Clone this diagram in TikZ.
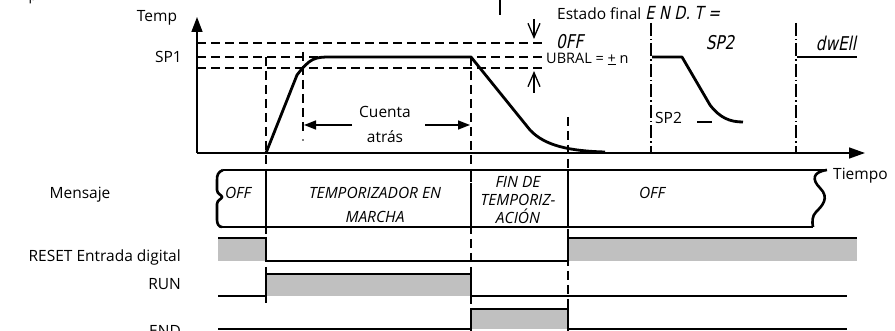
\documentclass[tikz,border=0pt]{standalone}
\usepackage{fontspec}
\setmainfont{Open Sans}
\newfontfamily\segfont[FakeSlant=0.2,FakeStretch=0.8]{DejaVu Sans}
\usetikzlibrary{arrows.meta}
\definecolor{sigfill}{HTML}{C0C0C0}
\begin{document}
\begin{tikzpicture}[x=1pt,y=-1pt,
  axisline/.style={line width=1.5pt},
  guide/.style={line width=1.4pt, dash pattern=on 9pt off 5pt},
  dashdotline/.style={line width=1.2pt, dash pattern=on 13pt off 3pt on 1.5pt off 3pt},
  curveline/.style={line width=2.8pt, line join=round},
  sigline/.style={line width=2.3pt},
  bandline/.style={line width=2.6pt},
  lbl/.style={font=\fontsize{15.5}{17}\selectfont, inner sep=0pt},
  msgtxt/.style={font=\fontsize{15.5}{17}\selectfont\itshape, inner sep=0pt, anchor=base},
  segtxt/.style={font=\segfont\fontsize{19}{19}\selectfont, inner sep=0pt},
]
\useasboundingbox (0,0) rectangle (895,331);

% fragment at top
\node[font=\rmfamily\fontsize{14}{14}\selectfont, anchor=base, inner sep=0pt] (frag) at (33,1) {p};
\draw[line width=2.5pt] (500,0) -- (500,15);

% threshold dashed lines
\draw[guide] (197,43) -- (543,43);
\draw[guide] (197,57) -- (543,57);
\draw[guide] (197,68) -- (543,68);

% vertical guides
\draw[guide] (266,57) -- (266,303);
\draw[guide] (303,52) -- (303,133);
\fill (303,140) circle (0.8pt);
\draw[guide] (471,57) -- (471,331);
\draw[guide] (568,117) -- (568,331);
\draw[dashdotline] (651,23) -- (651,153);
\draw[dashdotline] (796,23) -- (796,153);

% axes
\draw[axisline,-{Triangle[length=15pt,width=11pt]}] (197,153) -- (197,17);
\draw[axisline,-{Triangle[length=16pt,width=11pt]}] (197,153) -- (865,153);

% labels on axes
\node[lbl] (temp) at (157,18) {Temp};
\node[lbl, anchor=east] (sp1) at (182,57) {SP1};
\node[lbl, anchor=west] (tiempo) at (833,176) {Tiempo};

% main curve
\draw[curveline] (266,153) -- (297,75) .. controls (310,58) and (315,57) .. (330,57) -- (471,57) -- (530,130) .. controls (545,146) and (570,151) .. (605,152);

% Cuenta atras
\node[lbl] (cuenta) at (385,112) {Cuenta};
\node[lbl] (atras) at (385,137) {atrás};
\coordinate (cl) at (352,125);
\coordinate (cltip) at (304,125);
\coordinate (cr) at (425,125);
\coordinate (crtip) at (470,125);
\draw[line width=1.5pt,-{Triangle[length=12pt,width=9pt]}] (cl) -- (cltip);
\draw[line width=1.5pt,-{Triangle[length=12pt,width=9pt]}] (cr) -- (crtip);

% threshold arrows
\coordinate (da) at (534,19);
\coordinate (dat) at (534,39);
\coordinate (ua) at (534,93);
\coordinate (uat) at (534,71);
\draw[line width=1.3pt,-{Straight Barb[length=14pt,width=12pt]}] (da) -- (dat);
\draw[line width=1.3pt,-{Straight Barb[length=14pt,width=12pt]}] (ua) -- (uat);

\node[font=\fontsize{14.5}{15}\selectfont, inner sep=0pt, anchor=west] (ubral) at (546,59) {UBRAL = \underline{+} n};
\node[lbl, anchor=west] (estado) at (557,13) {Estado final {\segfont\fontsize{18}{18}\selectfont E N D. T =}};
\node[segtxt, anchor=west] (off7) at (556,42) {0FF};
\node[segtxt] (sp27) at (720,43) {SP2};
\node[segtxt] (dwell7) at (836,43) {dwEll};

% SP2 branch
\draw[curveline] (652,57) -- (682,57) -- (710,105) .. controls (720,118) and (730,122) .. (743,122);
\node[lbl, anchor=west] (sp2) at (655,118) {SP2};
\draw[line width=1.5pt] (697,122) -- (712,122);
% dwell branch
\draw[curveline] (797,57) -- (857,57);

% message band
\draw[bandline] (223,170) -- (827,170);
\draw[bandline] (222,227) -- (813,227);
\draw[bandline] (223,170) .. controls (218,172) and (217,175) .. (217,180) -- (217,190) .. controls (217,194) and (222,195) .. (222,197) .. controls (222,199) and (217,200) .. (217,204) -- (217,220) .. controls (217,224) and (219,227) .. (222,227);
\draw[bandline] (827,170) .. controls (812,172) and (812,180) .. (820,188) .. controls (830,198) and (822,206) .. (816,212) .. controls (812,216) and (812,222) .. (813,227);
\draw[bandline] (266,170) -- (266,227);
\draw[bandline, dash pattern=on 12pt off 4pt] (471,170) -- (471,227);
\draw[bandline] (568,170) -- (568,227);

\begin{scope}
\clip (200,171) rectangle (830,223.5);
\node[msgtxt] (m1) at (238,199) {OFF};
\node[msgtxt] (m2) at (375,199) {TEMPORIZADOR EN};
\node[msgtxt] (m3) at (375,222.5) {MARCHA};
\node[msgtxt] (m4) at (518,188) {FIN DE};
\node[msgtxt] (m5) at (518,206) {TEMPORIZ-};
\node[msgtxt] (m6) at (518,224) {ACIÓN};
\node[msgtxt] (m7) at (652,199) {OFF};
\end{scope}

% left labels
\node[lbl] (mensaje) at (80,195) {Mensaje};
\node[lbl, anchor=east] (reset) at (181,257) {RESET Entrada digital};
\node[lbl, anchor=east] (run) at (181,284) {RUN};
\node[lbl, anchor=east] (endl) at (181,331) {END};

% RESET
\fill[sigfill] (218,238) rectangle (266,261);
\fill[sigfill] (568,238) rectangle (857,261);
\draw[sigline] (218,238) -- (266,238) -- (266,261) -- (568,261) -- (568,238) -- (857,238);
% RUN
\fill[sigfill] (266,274) rectangle (471,296);
\draw[sigline] (218,296) -- (266,296) -- (266,274) -- (471,274) -- (471,296) -- (847,296);
% END
\fill[sigfill] (471,309) rectangle (568,329);
\draw[sigline] (218,329) -- (471,329) -- (471,309) -- (568,309) -- (568,329) -- (847,329);
\end{tikzpicture}
\end{document}
